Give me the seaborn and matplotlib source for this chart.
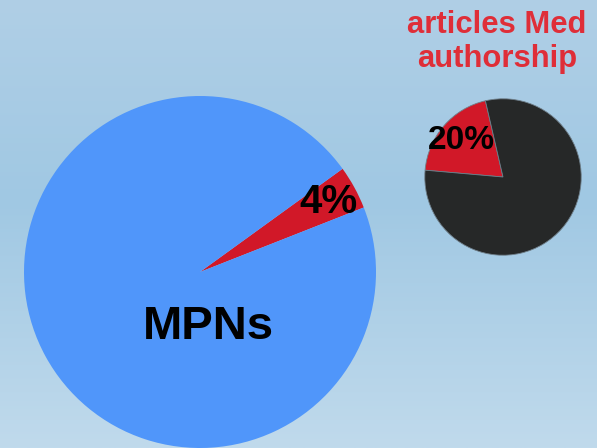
import numpy as np
import matplotlib
matplotlib.use("Agg")
import matplotlib.pyplot as plt
import seaborn as sns

sns.set_theme(style="white")
plt.rcParams["font.family"] = ["Liberation Sans", "DejaVu Sans"]

# Share of MPNs among all items, and share of articles with medical authorship
mpn_labels = ["other", "MPNs"]
mpn_values = [4, 96]
article_labels = ["Med authorship", "other"]
article_values = [20, 80]

RED = "#d11828"
BLUE = "#5096fa"
DARK = "#262828"

W, H = 597, 448
fig = plt.figure(figsize=(W / 100, H / 100), dpi=100)

# Soft vertical gradient background
bg = fig.add_axes([0, 0, 1, 1])
top = np.array([176, 207, 230]) / 255
mid = np.array([160, 200, 227]) / 255
bot = np.array([192, 218, 236]) / 255
t = np.linspace(0, 1, 256)[:, None]
grad = np.where(t < 0.45, top + (mid - top) * (t / 0.45),
                mid + (bot - mid) * ((t - 0.45) / 0.55))
bg.imshow(grad[:, None, :], aspect="auto", extent=[0, 1, 0, 1], origin="upper")
bg.set_axis_off()


def pie_axes(cx, cy, r):
    ax = fig.add_axes([(cx - r) / W, (H - cy - r) / H, 2 * r / W, 2 * r / H])
    ax.set_axis_off()
    return ax


def pct_only_first(values):
    first = values[0] / sum(values) * 100

    def fmt(p):
        return f"{p:.0f}%" if abs(p - first) < 0.01 else ""
    return fmt


# Large MPN pie
ax1 = pie_axes(200, 272, 176)
_, _, autos1 = ax1.pie(mpn_values, colors=[RED, BLUE], startangle=21.5,
                       radius=1, autopct=pct_only_first(mpn_values),
                       pctdistance=0.83,
                       wedgeprops=dict(linewidth=0, antialiased=True))
for a in autos1:
    a.set_fontsize(29)
    a.set_fontweight("bold")
    a.set_color("black")
ax1.text(0.05, -0.31, "MPNs", ha="center", va="center", fontsize=34,
         fontweight="bold", color="black")
ax1.set_xlim(-1, 1)
ax1.set_ylim(-1, 1)

# Small article pie
ax2 = pie_axes(503, 177, 79)
_, _, autos2 = ax2.pie(article_values, colors=[RED, DARK], startangle=103,
                       radius=1, autopct=pct_only_first(article_values),
                       pctdistance=0.71,
                       wedgeprops=dict(linewidth=0.6, edgecolor="#6f7f8a"))
for a in autos2:
    a.set_fontsize(24)
    a.set_fontweight("bold")
    a.set_color("black")
ax2.set_xlim(-1.01, 1.01)
ax2.set_ylim(-1.01, 1.01)

fig.text(497 / W, 1 - 42 / H, "articles Med\nauthorship", ha="center",
         va="center", fontsize=22.3, fontweight="bold", color="#df2e38",
         linespacing=1.17)

fig.savefig("out.png", dpi=100)
